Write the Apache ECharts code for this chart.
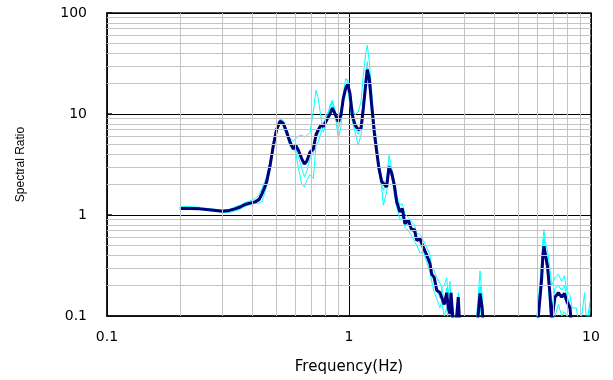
<!DOCTYPE html>
<html><head><meta charset="utf-8">
<script src="https://cdn.jsdelivr.net/npm/echarts@6/dist/echarts.min.js"></script>
<style>html,body{margin:0;padding:0;background:#fff}#c{width:613px;height:380px}</style>
</head><body><div id="c"></div>
<script>
// Frequency (Hz)
const freq = [
  0.200, 0.220, 0.242, 0.270, 0.300, 0.320, 0.338, 0.355, 0.372, 0.390,
  0.409, 0.425, 0.436, 0.447, 0.457, 0.472, 0.487, 0.502, 0.519, 0.535,
  0.553, 0.570, 0.589, 0.602, 0.617, 0.638, 0.654, 0.669, 0.690, 0.712,
  0.730, 0.747, 0.766, 0.783, 0.809, 0.835, 0.853, 0.875, 0.903, 0.927,
  0.947, 0.969, 0.988, 1.009, 1.032, 1.059, 1.092, 1.121, 1.146, 1.172,
  1.190, 1.213, 1.241, 1.272, 1.302, 1.330, 1.365, 1.386, 1.431, 1.463,
  1.501, 1.539, 1.574, 1.624, 1.660, 1.703, 1.758, 1.816, 1.862, 1.905,
  1.966, 2.028, 2.095, 2.161, 2.196, 2.251, 2.303, 2.377, 2.416, 2.476,
  2.533, 2.572, 2.614, 2.639, 2.690, 2.750, 2.829, 2.875, 3.000, 3.300,
  3.40, 3.48, 3.55, 3.62, 4.50, 5.70, 5.95, 6.06, 6.25, 6.32,
  6.39, 6.47, 6.61, 6.76, 6.88, 7.10, 7.33, 7.57, 7.76, 7.94,
  8.19, 8.35, 8.70, 9.00, 9.40, 9.60, 9.90
];
// Mean spectral ratio (thick navy)
const meanRatio = [
  1.16, 1.16, 1.15, 1.12, 1.09, 1.11, 1.15, 1.20, 1.27, 1.31,
  1.35, 1.42, 1.60, 1.85, 2.14, 3.10, 4.90, 7.00, 8.50, 8.10,
  6.60, 5.30, 4.50, 4.90, 4.40, 3.60, 3.20, 3.40, 4.20, 4.50,
  6.20, 7.00, 7.80, 7.50, 8.70, 10.1, 11.4, 10.1, 8.40, 9.80,
  14.2, 17.9, 19.7, 16.0, 9.80, 7.80, 7.00, 7.20, 11.4, 19.4,
  27.5, 22.5, 12.2, 6.60, 4.20, 2.88, 2.14, 2.05, 1.90, 3.00,
  2.60, 1.98, 1.35, 1.07, 1.16, 0.82, 0.89, 0.71, 0.72, 0.56,
  0.58, 0.48, 0.40, 0.33, 0.26, 0.24, 0.18, 0.17, 0.17, 0.13,
  0.17, 0.12, 0.105, 0.17, 0.09, 0.07, 0.154, 0.07, 0.05, 0.05,
  0.09, 0.167, 0.12, 0.06, 0.04, 0.05, 0.07, 0.10, 0.23, 0.38,
  0.50, 0.41, 0.31, 0.17, 0.09, 0.154, 0.17, 0.154, 0.167, 0.14,
  0.12, 0.07, 0.05, 0.05, 0.05, 0.05, 0.05
];
// Individual record A (cyan)
const recordA = [
  1.22, 1.21, 1.19, 1.15, 1.12, 1.13, 1.20, 1.25, 1.33, 1.38,
  1.45, 1.58, 1.83, 2.10, 2.40, 3.40, 5.30, 7.40, 8.80, 8.40,
  7.10, 5.70, 5.40, 5.70, 6.00, 6.20, 5.90, 6.10, 6.60, 10.5,
  17.2, 14.2, 9.10, 6.60, 8.70, 12.2, 13.7, 11.0, 8.40, 11.6,
  16.0, 22.5, 21.0, 17.0, 11.8, 9.80, 10.5, 13.2, 24.0, 40.0,
  48.0, 33.0, 16.6, 8.40, 5.30, 3.40, 2.30, 2.14, 2.20, 3.90,
  2.90, 2.20, 1.55, 1.25, 1.30, 1.02, 0.95, 0.85, 0.80, 0.66,
  0.64, 0.56, 0.48, 0.40, 0.30, 0.28, 0.24, 0.21, 0.19, 0.20,
  0.24, 0.16, 0.22, 0.14, 0.12, 0.08, 0.13, 0.07, 0.06, 0.06,
  0.13, 0.28, 0.16, 0.08, 0.05, 0.05, 0.09, 0.14, 0.36, 0.55,
  0.72, 0.55, 0.45, 0.30, 0.20, 0.24, 0.26, 0.22, 0.25, 0.18,
  0.16, 0.12, 0.12, 0.07, 0.17, 0.08, 0.14
];
// Individual record B (cyan)
const recordB = [
  1.13, 1.14, 1.13, 1.10, 1.07, 1.06, 1.10, 1.14, 1.22, 1.27,
  1.30, 1.31, 1.35, 1.60, 1.95, 2.80, 4.50, 6.60, 8.20, 7.60,
  6.00, 4.80, 4.40, 4.20, 3.00, 2.00, 1.90, 2.20, 2.50, 2.30,
  4.90, 5.30, 6.50, 7.80, 9.80, 11.5, 13.2, 10.5, 5.70, 7.50,
  14.9, 19.4, 18.0, 12.0, 8.40, 6.60, 4.90, 6.20, 9.10, 22.5,
  29.0, 18.0, 9.80, 5.50, 3.80, 2.70, 1.84, 1.25, 1.70, 2.60,
  2.40, 1.60, 1.20, 0.90, 0.98, 0.75, 0.70, 0.62, 0.55, 0.50,
  0.42, 0.44, 0.34, 0.27, 0.22, 0.17, 0.15, 0.12, 0.14, 0.10,
  0.12, 0.09, 0.08, 0.10, 0.07, 0.06, 0.08, 0.06, 0.05, 0.05,
  0.08, 0.12, 0.09, 0.05, 0.04, 0.05, 0.06, 0.09, 0.18, 0.30,
  0.40, 0.38, 0.27, 0.12, 0.08, 0.10, 0.13, 0.10, 0.11, 0.10,
  0.09, 0.07, 0.05, 0.05, 0.05, 0.05, 0.05
];
// Individual record C (cyan)
const recordC = [
  1.18, 1.17, 1.16, 1.13, 1.10, 1.09, 1.13, 1.18, 1.25, 1.30,
  1.38, 1.50, 1.70, 1.95, 2.30, 3.30, 5.10, 7.20, 8.90, 8.60,
  6.90, 5.50, 4.70, 4.60, 3.80, 2.90, 2.40, 2.70, 3.60, 4.10,
  5.60, 6.40, 7.20, 8.20, 9.20, 9.40, 12.0, 9.40, 7.00, 9.20,
  13.5, 17.0, 22.0, 15.0, 8.90, 7.20, 6.30, 8.00, 14.0, 25.0,
  33.0, 20.0, 11.0, 6.20, 4.60, 3.10, 2.00, 1.75, 2.10, 3.20,
  2.40, 1.80, 1.45, 1.15, 1.05, 0.90, 0.78, 0.76, 0.66, 0.60,
  0.52, 0.46, 0.42, 0.30, 0.28, 0.21, 0.20, 0.15, 0.19, 0.14,
  0.19, 0.11, 0.12, 0.15, 0.10, 0.08, 0.17, 0.08, 0.06, 0.05,
  0.10, 0.20, 0.13, 0.07, 0.04, 0.05, 0.08, 0.12, 0.28, 0.45,
  0.60, 0.47, 0.36, 0.22, 0.12, 0.19, 0.20, 0.18, 0.20, 0.16,
  0.13, 0.09, 0.07, 0.06, 0.09, 0.06, 0.12
];
const xTickLabels = ['0.1', '1', '10'];
const yTickLabels = ['0.1', '1', '10', '100'];
const xMinorGrid = [0.2,0.3,0.4,0.5,0.6,0.7,0.8,0.9,2,3,4,5,6,7,8,9];
const yMinorGrid = [0.2,0.3,0.4,0.5,0.6,0.7,0.8,0.9,2,3,4,5,6,7,8,9,20,30,40,50,60,70,80,90];

const pair = arr => freq.map((f, i) => [f, arr[i]]);
const fmt = v => String(Number(v.toPrecision(3)));
const cyanLine = (arr) => ({type: 'line', data: pair(arr), showSymbol: false, symbol: 'none',
  clip: true, z: 3, silent: true, lineStyle: {color: '#00ffff', width: 1}});

const chart = echarts.init(document.getElementById('c'), null, {renderer: 'canvas'});
chart.setOption({
  animation: false,
  backgroundColor: '#fff',
  grid: {left: 107, right: 22, top: 13, bottom: 64, show: true,
         borderColor: '#111', borderWidth: 1.5, backgroundColor: 'transparent'},
  xAxis: {
    type: 'log', logBase: 10, min: 0.1, max: 10,
    name: 'Frequency(Hz)', nameLocation: 'middle', nameGap: 44,
    nameTextStyle: {fontFamily: 'DejaVu Sans', fontSize: 15, color: '#000'},
    axisLine: {show: true, lineStyle: {color: '#111', width: 1.5}},
    axisTick: {show: false},
    axisLabel: {margin: 14, fontFamily: 'DejaVu Sans', fontSize: 14, color: '#000',
                formatter: v => xTickLabels.includes(fmt(v)) ? fmt(v) : ''},
    splitLine: {show: true, lineStyle: {color: '#000', width: 1}}
  },
  yAxis: {
    type: 'log', logBase: 10, min: 0.1, max: 100,
    name: 'Spectral Ratio', nameLocation: 'middle', nameGap: 80, nameRotate: 90,
    nameTextStyle: {fontFamily: 'Liberation Sans', fontSize: 12, color: '#000'},
    axisLine: {show: true, lineStyle: {color: '#111', width: 1.5}},
    axisTick: {show: true, inside: true, length: 5, lineStyle: {color: '#111', width: 1.5}},
    axisLabel: {margin: 20, fontFamily: 'DejaVu Sans', fontSize: 14, color: '#000',
                formatter: v => yTickLabels.includes(fmt(v)) ? fmt(v) : ''},
    splitLine: {show: true, lineStyle: {color: '#000', width: 1}}
  },
  series: [
    {
      type: 'line', data: [], silent: true, z: 1,
      markLine: {
        silent: true, symbol: 'none', animation: false,
        label: {show: false},
        lineStyle: {color: '#c4c4c4', type: 'solid', width: 1},
        emphasis: {disabled: true},
        data: xMinorGrid.map(v => ({xAxis: v})).concat(yMinorGrid.map(v => ({yAxis: v})))
      }
    },
    cyanLine(recordA),
    cyanLine(recordB),
    cyanLine(recordC),
    {type: 'line', data: pair(meanRatio), showSymbol: false, symbol: 'none', clip: true, z: 4,
     silent: true, lineStyle: {color: '#000080', width: 3}}
  ]
});
</script>
</body></html>
